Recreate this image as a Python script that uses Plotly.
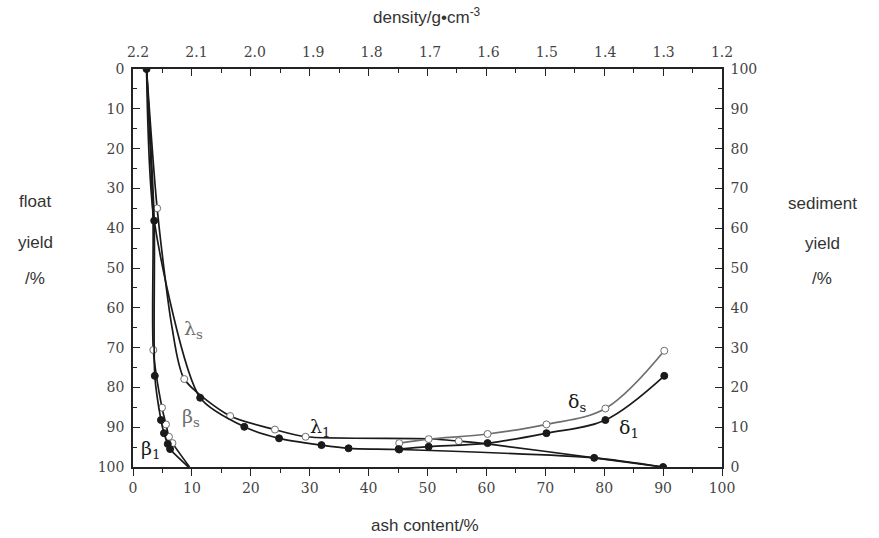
import plotly.graph_objects as go

# ---- washability data: ash content (%) vs cumulative yields (%) ----
# lambda curves (elementary ash), read against float yield (left axis)
lam1_ash = [2.3, 3.6, 11.4, 18.9, 24.8, 32.0, 36.6, 45.2, 78.3, 90.0]
lam1_float = [0.0, 38.1, 82.6, 89.9, 92.8, 94.5, 95.3, 95.6, 97.7, 100.0]
lam1_dot = [1, 1, 1, 1, 1, 1, 1, 1, 1, 1]

lams_ash = [2.3, 4.1, 6.6, 8.7, 16.5, 24.1, 29.3, 50.3, 55.3, 60.2, 78.3, 90.0]
lams_float = [0.0, 35.0, 64.7, 77.9, 87.2, 90.6, 92.4, 92.9, 93.5, 94.2, 97.7, 100.0]
lams_dot = [0, 1, 0, 1, 1, 1, 1, 0, 1, 0, 0, 0]

# beta curves (cumulative float ash)
beta1_ash = [2.3, 3.6, 3.7, 4.75, 5.26, 5.9, 6.3, 9.4]
beta1_float = [0.0, 38.1, 77.1, 88.2, 91.5, 94.2, 95.5, 100.0]
beta1_dot = [0, 0, 1, 1, 1, 1, 1, 0]

betas_ash = [2.3, 3.4, 3.45, 4.92, 5.6, 6.1, 6.7, 9.6]
betas_float = [0.0, 38.0, 70.6, 85.1, 89.3, 92.4, 94.0, 100.0]
betas_dot = [0, 0, 1, 1, 1, 1, 1, 0]

# delta curves (cumulative sink ash), read against sediment yield (right axis)
del1_ash = [45.1, 50.2, 60.2, 70.2, 80.2, 90.2]
del1_sink = [4.5, 5.1, 6.0, 8.5, 11.8, 22.9]

dels_ash = [45.2, 50.2, 60.2, 70.2, 80.2, 90.2]
dels_sink = [6.0, 7.0, 8.3, 10.7, 14.7, 29.2]

# axis tick labels
ash_ticks = list(range(0, 101, 10))
yield_ticks = list(range(0, 101, 10))
density_ticks = [2.2, 2.1, 2.0, 1.9, 1.8, 1.7, 1.6, 1.5, 1.4, 1.3, 1.2]

W, H = 879, 538
ML, MR, MT, MB = 133, 157, 69, 71
PW, PH = W - ML - MR, H - MT - MB

DARK = "#1a1a1a"
GREY = "#6e6e6e"
TICK_FONT = dict(family="DejaVu Serif", size=14, color="#444444")
SANS = "Liberation Sans"

fig = go.Figure()


def add_curve(xs, ys, dots, color, filled, yaxis="y", smooth=0.7):
    fig.add_trace(go.Scatter(
        x=xs, y=ys, mode="lines", yaxis=yaxis,
        line=dict(color=color, width=1.7, shape="spline", smoothing=smooth),
        hoverinfo="skip", showlegend=False))
    mx = [x for x, d in zip(xs, dots) if d]
    my = [y for y, d in zip(ys, dots) if d]
    fig.add_trace(go.Scatter(
        x=mx, y=my, mode="markers", yaxis=yaxis,
        marker=dict(size=7, symbol="circle",
                    color=DARK if filled else "white",
                    line=dict(color=DARK if filled else GREY, width=1)),
        hoverinfo="skip", showlegend=False))


add_curve(lams_ash, lams_float, lams_dot, DARK, False)
add_curve(lam1_ash, lam1_float, lam1_dot, DARK, True)
add_curve(betas_ash, betas_float, betas_dot, DARK, False)
add_curve(beta1_ash, beta1_float, beta1_dot, DARK, True)
add_curve(dels_ash, dels_sink, [1] * len(dels_ash), GREY, False, yaxis="y2", smooth=1.0)
add_curve(del1_ash, del1_sink, [1] * len(del1_ash), DARK, True, yaxis="y2", smooth=1.0)

# empty traces so the top axes are drawn
fig.add_trace(go.Scatter(x=[None], y=[None], xaxis="x3", showlegend=False))
fig.add_trace(go.Scatter(x=[None], y=[None], xaxis="x2", showlegend=False))

# curve labels
labels = [
    ("λ<sub>s</sub>", 10.3, 65.5, "y", GREY),
    ("λ<sub>1</sub>", 31.8, 90.0, "y", DARK),
    ("β<sub>s</sub>", 9.8, 87.5, "y", GREY),
    ("β<sub>1</sub>", 3.0, 95.5, "y", DARK),
    ("δ<sub>s</sub>", 75.3, 16.2, "y2", DARK),
    ("δ<sub>1</sub>", 84.2, 9.8, "y2", DARK),
]
for txt, lx, ly, yr, col in labels:
    fig.add_annotation(x=lx, y=ly, xref="x", yref=yr, text=txt, showarrow=False,
                       font=dict(family="DejaVu Serif", size=19, color=col))

# axis titles, positioned in page pixels
side_titles = [
    ("float", 35, 202), ("yield", 35, 242), ("/%", 35, 278),
    ("sediment", 822, 203), ("yield", 822, 243), ("/%", 822, 278),
    ("density/g•cm<sup>-3</sup>", 427, 16), ("ash content/%", 425, 525),
]
for txt, px, py in side_titles:
    fig.add_annotation(x=(px - ML) / PW, y=(H - MB - py) / PH,
                       xref="paper", yref="paper",
                       text=txt, showarrow=False, xanchor="center", yanchor="middle",
                       font=dict(family=SANS, size=17, color="#333333"))

axis_common = dict(showline=True, linecolor="#222222", linewidth=1.5,
                   showgrid=False, zeroline=False, tickcolor="#222222",
                   tickwidth=1.3, ticklen=7)

fig.update_layout(
    width=W, height=H,
    margin=dict(l=ML, r=MR, t=MT, b=MB),
    paper_bgcolor="white", plot_bgcolor="white",
    xaxis=dict(range=[0, 100], tickvals=ash_ticks, ticks="outside",
               tickfont=TICK_FONT,
               minor=dict(dtick=5, ticks="outside", ticklen=4, tickcolor="#222222"),
               **axis_common),
    xaxis3=dict(range=[0, 100], overlaying="x", side="top", tickvals=ash_ticks,
                ticks="inside", showticklabels=False,
                minor=dict(dtick=5, ticks="inside", ticklen=4, tickcolor="#222222"),
                **axis_common),
    xaxis2=dict(range=[2.2086, 1.2], overlaying="x", side="top",
                tickvals=density_ticks, ticktext=[f"{d:.1f}" for d in density_ticks],
                ticks="", showline=False, showgrid=False, zeroline=False,
                ticklabelstandoff=8, tickfont=TICK_FONT),
    yaxis=dict(range=[100, 0], tickvals=yield_ticks, ticks="inside",
               tickfont=TICK_FONT, ticklabelstandoff=4,
               minor=dict(dtick=5, ticks="inside", ticklen=4, tickcolor="#222222"),
               **axis_common),
    yaxis2=dict(range=[0, 100], overlaying="y", side="right", tickvals=yield_ticks,
                ticks="inside", tickfont=TICK_FONT, ticklabelstandoff=4,
                minor=dict(dtick=5, ticks="inside", ticklen=4, tickcolor="#222222"),
                **axis_common),
)

fig.write_html("out.html")
